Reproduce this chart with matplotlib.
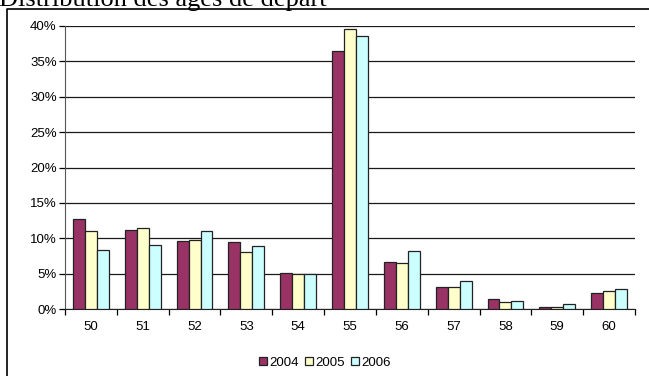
import matplotlib.pyplot as plt
import numpy as np
from matplotlib.lines import Line2D
from matplotlib.ticker import FuncFormatter, FixedLocator

ages = ["50", "51", "52", "53", "54", "55", "56", "57", "58", "59", "60"]
annees = ["2004", "2005", "2006"]
v2004 = [12.7, 11.2, 9.65, 9.4, 5.1, 36.4, 6.65, 3.05, 1.4, 0.28, 2.3]
v2005 = [11.0, 11.45, 9.75, 8.05, 4.9, 39.6, 6.45, 3.05, 0.95, 0.28, 2.5]
v2006 = [8.4, 9.1, 11.0, 8.85, 4.9, 38.6, 8.15, 4.0, 1.1, 0.65, 2.8]
couleurs = ["#993366", "#FFFFCC", "#CCFFFF"]

W, H = 649, 376
fig = plt.figure(figsize=(W / 100, H / 100), dpi=100)
ax = fig.add_axes([65 / W, 1 - 309 / H, (635 - 65) / W, (309 - 26) / H])

x = np.arange(len(ages))
larg = 0.23
for k, (serie, c) in enumerate(zip([v2004, v2005, v2006], couleurs)):
    ax.bar(x + (k - 1) * larg, serie, larg, color=c, edgecolor="#222222",
           linewidth=0.9, label=annees[k], zorder=3)

ax.set_xlim(-0.5, len(ages) - 0.5)
ax.set_ylim(0, 40)
ax.yaxis.set_major_locator(FixedLocator(np.arange(0, 41, 5)))
ax.yaxis.set_major_formatter(FuncFormatter(lambda v, p: "%d%%" % v))
ax.set_xticks(x)
ax.set_xticklabels(ages)
ax.xaxis.set_minor_locator(FixedLocator(np.arange(-0.5, len(ages), 1)))
ax.tick_params(axis="x", which="major", length=0, pad=9)
ax.tick_params(axis="x", which="minor", length=4, width=0.9, direction="out")
ax.tick_params(axis="y", length=4, width=0.9, direction="out", pad=2)
for lab in ax.get_xticklabels() + ax.get_yticklabels():
    lab.set_fontfamily("Liberation Sans")
    lab.set_fontsize(9.5)

ax.grid(axis="y", color="#1a1a1a", linewidth=0.9, zorder=0)
for s in ["top", "right"]:
    ax.spines[s].set_visible(False)
ax.spines["left"].set_color("#555555")
ax.spines["bottom"].set_color("#222222")

leg = fig.legend(loc="center", bbox_to_anchor=(325 / W, 1 - 363 / H), ncol=3,
                 frameon=False, handlelength=0.55, handleheight=0.55,
                 handletextpad=0.2, columnspacing=0.5,
                 prop={"family": "Liberation Sans", "size": 9.5})

# cadre du graphique
fig.add_artist(Line2D([7 / W, 7 / W, 1.0], [0, 1 - 8.5 / H, 1 - 8.5 / H],
                      transform=fig.transFigure, color="black", linewidth=1.2))

fig.text(-1 / W, 1 - 6 / H, "Distribution des âges de départ",
         fontfamily="Liberation Serif", fontsize=19, ha="left", va="baseline")

fig.savefig("out.png", dpi=100)
